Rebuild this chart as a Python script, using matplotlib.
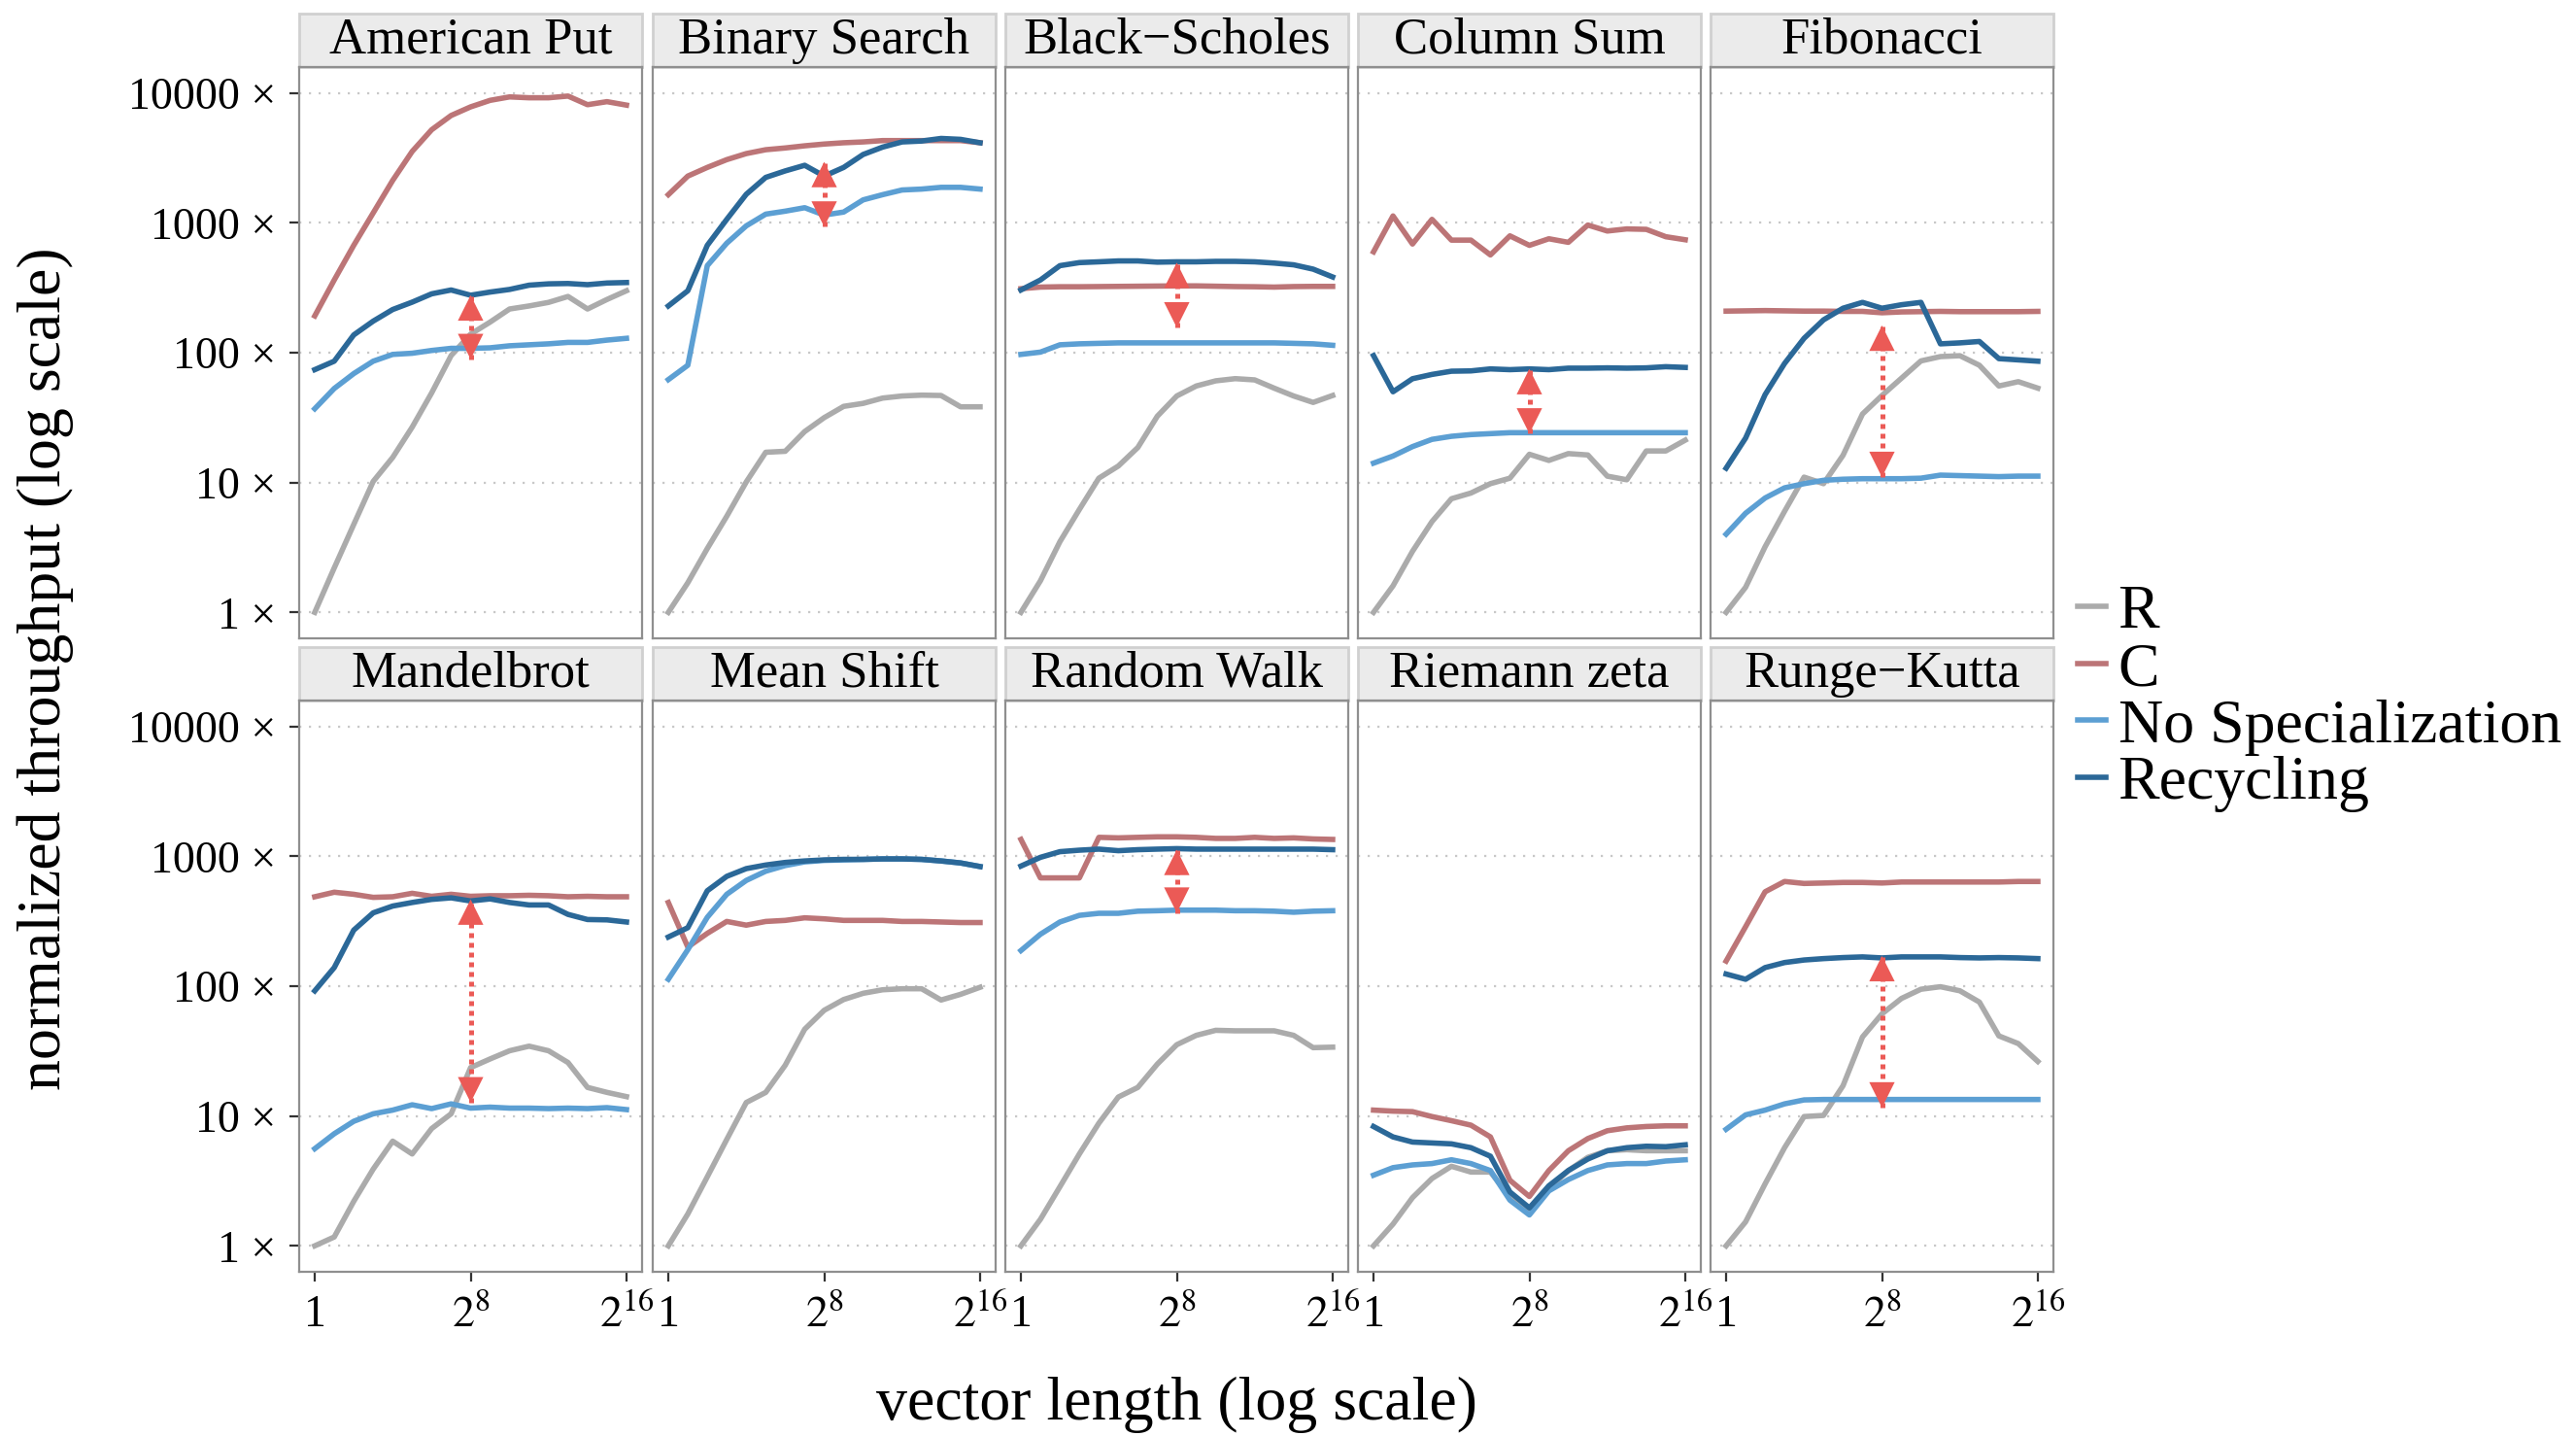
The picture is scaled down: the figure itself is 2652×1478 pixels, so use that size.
import numpy as np
import matplotlib
matplotlib.use("Agg")
import matplotlib.pyplot as plt
from matplotlib.patches import Rectangle
from matplotlib.lines import Line2D
from matplotlib.ticker import NullLocator

plt.rcParams['font.family'] = ['Liberation Serif', 'DejaVu Serif']
plt.rcParams['mathtext.fontset'] = 'stix'

# benchmarks, one facet each (row-major)
benchmarks = ["American Put", "Binary Search", "Black\u2212Scholes", "Column Sum", "Fibonacci",
              "Mandelbrot", "Mean Shift", "Random Walk", "Riemann zeta", "Runge\u2212Kutta"]

# vector length = 2^0 .. 2^16
exponents = np.arange(17)
vec_len = 2.0 ** exponents

# normalized throughput, one row per benchmark
r_vals = [
    [1, 2.2, 4.75, 10.2, 15.6, 26.7, 49, 95, 139, 172, 217, 229, 244, 271, 217, 257, 300],
    [1, 1.69, 3.1, 5.5, 10.1, 17.1, 17.4, 24.7, 31.6, 38.6, 40.7, 44.7, 46.4, 47.1, 46.8, 38.3, 38.3],
    [1, 1.75, 3.5, 6.2, 10.8, 13.4, 18.6, 32.4, 46.4, 55.4, 60.7, 63.1, 61.7, 53.3, 46.4, 41.4, 46.8],
    [1, 1.6, 2.95, 5.0, 7.5, 8.3, 9.8, 10.8, 16.5, 14.8, 16.7, 16.3, 11.2, 10.5, 17.5, 17.5, 21.2],
    [1, 1.56, 3.2, 6.0, 11.0, 9.8, 16.2, 33.7, 46.8, 63.6, 86.4, 93.3, 94.8, 80, 55.4, 59.8, 53.3],
    [1, 1.17, 2.2, 3.9, 6.4, 5.1, 8.0, 10.4, 23.6, 27.5, 31.8, 34.5, 31.8, 25.8, 16.6, 15.2, 14.1],
    [1, 1.76, 3.4, 6.6, 12.7, 15.2, 24.6, 46.6, 65.2, 78.9, 88.1, 93.8, 95.5, 95.5, 78.2, 86.5, 98],
    [1, 1.6, 2.85, 5.1, 8.8, 14, 16.6, 25.1, 35.4, 41.8, 45.7, 45.3, 45.3, 45.3, 41.8, 33.6, 33.9],
    [1, 1.47, 2.35, 3.3, 4.1, 3.7, 3.7, 2.4, 1.84, 2.77, 3.8, 4.8, 5.4, 5.5, 5.4, 5.4, 5.4],
    [1, 1.53, 3.0, 5.7, 9.9, 10.1, 17.1, 40.6, 61.2, 80.4, 94.7, 99, 92.1, 75.4, 41.4, 36.1, 26.3],
]
c_vals = [
    [192, 363, 671, 1193, 2122, 3548, 5212, 6714, 7820, 8778, 9333, 9190, 9190, 9474, 8128, 8577, 8066],
    [1648, 2291, 2672, 3068, 3415, 3658, 3773, 3920, 4045, 4138, 4200, 4300, 4300, 4300, 4300, 4300, 4138],
    [311, 320, 322, 322, 323, 324, 325, 326, 327, 327, 325, 323, 322, 320, 323, 324, 324],
    [598, 1130, 687, 1064, 736, 736, 566, 794, 671, 754, 708, 962, 865, 898, 891, 782, 741],
    [209, 210, 211, 210, 209, 209, 208, 208, 203, 206, 207, 208, 207, 207, 207, 207, 208],
    [488, 529, 510, 483, 488, 519, 492, 510, 492, 497, 497, 501, 497, 488, 492, 488, 488],
    [441, 200, 255, 315, 295, 315, 321, 336, 330, 321, 321, 321, 315, 315, 312, 309, 309],
    [1349, 682, 682, 682, 1400, 1387, 1400, 1413, 1413, 1400, 1374, 1374, 1400, 1374, 1387, 1361, 1349],
    [11.1, 10.9, 10.8, 9.9, 9.2, 8.5, 6.9, 3.2, 2.4, 3.8, 5.4, 6.7, 7.7, 8.1, 8.3, 8.4, 8.4],
    [156, 287, 533, 640, 618, 623, 629, 629, 623, 634, 634, 634, 634, 634, 634, 640, 640],
]
nospec_vals = [
    [37, 53, 69, 86, 97, 99, 104, 108, 108, 109, 113, 115, 117, 120, 120, 125, 129],
    [62, 80, 468, 697, 948, 1167, 1230, 1308, 1148, 1211, 1503, 1648, 1791, 1820, 1877, 1877, 1820],
    [97, 101, 115, 117, 118, 119, 119, 119, 119, 119, 119, 119, 119, 119, 118, 117, 114],
    [14.1, 16, 18.9, 21.5, 22.7, 23.4, 23.8, 24.2, 24.2, 24.2, 24.2, 24.2, 24.2, 24.2, 24.2, 24.2, 24.2],
    [4.0, 5.8, 7.6, 9.1, 9.8, 10.4, 10.6, 10.7, 10.7, 10.7, 10.8, 11.4, 11.3, 11.2, 11.1, 11.2, 11.2],
    [5.6, 7.3, 9.1, 10.4, 11.1, 12.2, 11.4, 12.4, 11.5, 11.7, 11.5, 11.5, 11.4, 11.5, 11.4, 11.6, 11.2],
    [113, 191, 339, 510, 652, 768, 849, 906, 930, 938, 947, 955, 955, 947, 921, 889, 834],
    [188, 251, 312, 351, 364, 364, 378, 381, 385, 385, 385, 381, 381, 378, 371, 378, 381],
    [3.5, 4.0, 4.2, 4.3, 4.6, 4.3, 3.8, 2.25, 1.73, 2.65, 3.24, 3.8, 4.2, 4.3, 4.3, 4.5, 4.6],
    [7.9, 10.2, 11.1, 12.4, 13.3, 13.4, 13.4, 13.4, 13.4, 13.4, 13.4, 13.4, 13.4, 13.4, 13.4, 13.4, 13.4],
]
recycling_vals = [
    [74, 86, 137, 175, 215, 245, 284, 304, 277, 293, 307, 331, 339, 341, 334, 344, 347],
    [229, 300, 671, 1064, 1660, 2239, 2512, 2775, 2291, 2672, 3362, 3831, 4200, 4266, 4467, 4395, 4138],
    [304, 363, 468, 494, 501, 509, 509, 498, 501, 501, 505, 505, 501, 490, 475, 440, 383],
    [95, 50, 63, 68, 72, 72.4, 75, 74, 75, 74, 76, 76, 76.4, 76, 76.4, 78, 77],
    [12.9, 22, 47.5, 82.6, 129, 179, 220, 244, 220, 234, 244, 117, 119, 122, 90, 88, 86],
    [92, 139, 270, 367, 414, 441, 466, 479, 453, 470, 441, 422, 422, 357, 326, 324, 312],
    [239, 282, 543, 701, 804, 857, 897, 921, 938, 947, 947, 955, 955, 947, 921, 889, 834],
    [841, 982, 1086, 1115, 1136, 1105, 1125, 1136, 1146, 1136, 1136, 1136, 1136, 1136, 1136, 1136, 1125],
    [8.3, 6.9, 6.3, 6.2, 6.1, 5.7, 4.9, 2.6, 1.96, 2.9, 3.8, 4.66, 5.4, 5.7, 5.85, 5.8, 6.0],
    [124, 113, 139, 152, 159, 163, 166, 168, 165, 168, 168, 168, 166, 165, 166, 165, 163],
]

# speedup arrows at vector length 2^8 (None = no arrow)
arrow_lo = [89, 933, 156, 23.8, 11, 12.7, None, 367, None, 11.6]
arrow_hi = [277, 2951, 494, 75, 162, 466, None, 1125, None, 171]

series_names = ["R", "C", "No Specialization", "Recycling"]
series_colors = ["#ABABAB", "#BC7577", "#5C9FD3", "#2B6898"]
arrow_color = "#EB5A56"

ytick_vals = [1, 10, 100, 1000, 10000]
ytick_labels = ["1 \u00d7", "10 \u00d7", "100 \u00d7", "1000 \u00d7", "10000 \u00d7"]
xtick_vals = [1, 2 ** 8, 2 ** 16]
xtick_labels = ["1", r"$2^{8}$", r"$2^{16}$"]

W, H = 2652, 1478
fig = plt.figure(figsize=(W / 200, H / 200), dpi=200)

col_left = [308, 672, 1035, 1398, 1761]
row_top = [69, 721]
pw, ph = 353, 588
strip_h = 55

head = dict(arrowstyle='-|>,head_length=0.82,head_width=0.41', color=arrow_color, lw=0,
            shrinkA=0, shrinkB=0, mutation_scale=11.5)

for i, name in enumerate(benchmarks):
    row, col = divmod(i, 5)
    ax = fig.add_axes([col_left[col] / W, 1 - (row_top[row] + ph) / H, pw / W, ph / H])
    series = [r_vals[i], c_vals[i], nospec_vals[i], recycling_vals[i]]
    for vals, color, lab in zip(series, series_colors, series_names):
        ax.plot(vec_len, vals, color=color, lw=2.0, label=lab)

    if arrow_lo[i] is not None:
        # dotted shaft + two filled heads
        ax.plot([2 ** 8, 2 ** 8], [arrow_lo[i], arrow_hi[i]], color=arrow_color, lw=1.8,
                ls=(0, (1, 1)))
        ax.annotate('', xy=(2 ** 8, arrow_hi[i]), xytext=(2 ** 8, arrow_lo[i]), arrowprops=head)
        ax.annotate('', xy=(2 ** 8, arrow_lo[i]), xytext=(2 ** 8, arrow_hi[i]), arrowprops=head)

    ax.set_xscale('log', base=2)
    ax.set_yscale('log')
    ax.set_xlim(2 ** -0.8, 2 ** 16.8)
    ax.set_ylim(10 ** -0.2, 10 ** 4.2)
    ax.set_yticks(ytick_vals)
    ax.set_yticklabels(ytick_labels)
    ax.set_xticks(xtick_vals)
    ax.set_xticklabels(xtick_labels)
    ax.xaxis.set_minor_locator(NullLocator())
    ax.yaxis.set_minor_locator(NullLocator())
    ax.grid(axis='y', which='major', ls=(0, (1, 3.5)), color='#C8C8C8', lw=0.8)
    ax.grid(axis='x', visible=False)
    ax.tick_params(labelsize=16.5, length=3.6, width=0.8, color='#333333', pad=5)
    if col != 0:
        ax.tick_params(axis='y', left=False, labelleft=False)
    if row == 0:
        ax.tick_params(axis='x', bottom=False, labelbottom=False)
    for sp in ax.spines.values():
        sp.set_color('#8F8F8F')
        sp.set_linewidth(0.8)

    # facet strip
    ax.add_patch(Rectangle((0, 1), 1, strip_h / ph, transform=ax.transAxes, clip_on=False,
                           facecolor='#EBEBEB', edgecolor='#D0D0D0', lw=1))
    ax.text(0.5, 1 + strip_h / ph / 2, name, transform=ax.transAxes, ha='center', va='center',
            fontsize=19)

fig.text(47 / W, 1 - 688 / H, "normalized throughput (log scale)", rotation=90,
         ha='center', va='center', fontsize=23)
fig.text(1211 / W, 1 - 1446 / H, "vector length (log scale)", ha='center', va='center', fontsize=23)

handles = [Line2D([], [], color=c, lw=2.0) for c in series_colors]
fig.legend(handles, series_names, loc='center left', bbox_to_anchor=(2139 / W, 1 - 719 / H),
           frameon=False, fontsize=23, handlelength=0.45, handletextpad=0.2,
           labelspacing=0.0, borderpad=0, borderaxespad=0)

fig.savefig("out.png", dpi=200)
